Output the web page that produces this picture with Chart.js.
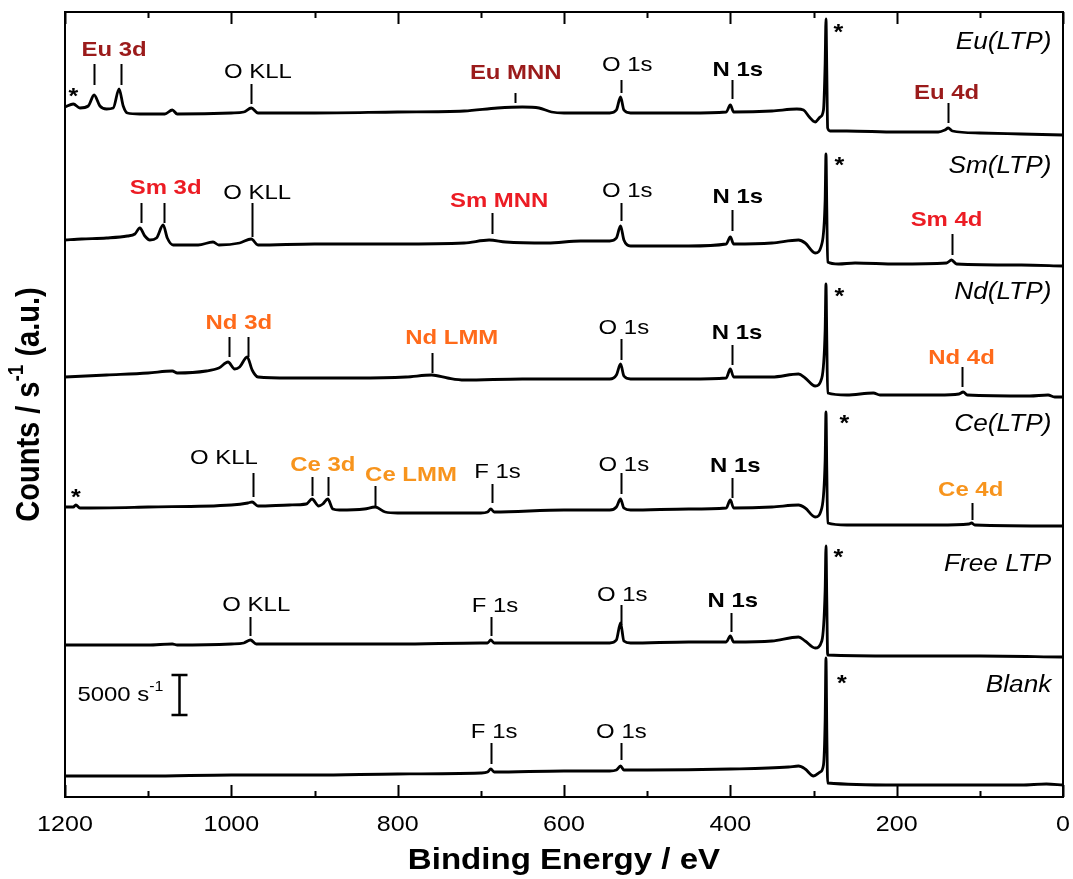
<!DOCTYPE html>
<html>
<head>
<meta charset="utf-8">
<script src="https://cdn.jsdelivr.net/npm/chart.js@4.4.0/dist/chart.umd.min.js"></script>
<style>
    html, body { margin: 0; padding: 0; background: #fff; }
</style>
</head>
<body>
<canvas id="xpsChart" width="1073" height="879"></canvas>
<script>
// survey spectra, [binding energy (eV), counts/s above the trace's own zero]
const euSpectrum = [[1200,3500],[1190,3875],[1182,3375],[1172,3625],[1165,5000],[1158,3625],[1150,3250],[1142,3375],[1135,5750],[1130,3625],[1125,2750],[1110,2625],[1080,2625],[1071,3125],[1065,2625],[1000,2750],[985,2875],[976,3375],[968,2750],[900,2750],[800,2875],[720,3000],[680,3375],[650,3500],[630,3375],[615,2875],[600,2750],[545,2750],[537,3125],[532,4750],[528,3125],[520,2750],[450,2750],[405,2875],[400,3750],[396,2875],[350,3000],[320,3250],[312,3125],[305,2250],[298,1625],[292,2250],[288,3125],[286,9000],[285,14500],[284,8000],[283,875],[280,500],[260,500],[200,375],[150,375],[142,625],[138,875],[133,500],[100,250],[50,125],[0,0]];
const smSpectrum = [[1200,3250],[1180,3375],[1150,3500],[1125,3750],[1116,4000],[1110,4750],[1104,3750],[1098,3250],[1090,3500],[1082,5125],[1077,3500],[1070,2625],[1040,2625],[1022,3000],[1015,2625],[990,2875],[976,3375],[968,2625],[900,2750],[800,2750],[720,2875],[690,3250],[670,3000],[620,2875],[580,3125],[545,3125],[537,3500],[532,5000],[528,3250],[520,2500],[450,2500],[405,2750],[400,3625],[396,2750],[350,2875],[318,3250],[310,2875],[298,1625],[290,2750],[286,8250],[285,14000],[284,7125],[283,500],[270,250],[250,375],[200,250],[140,375],[134,750],[128,250],[50,125],[0,0]];
const ndSpectrum = [[1200,2500],[1150,2750],[1100,3000],[1071,3250],[1065,3000],[1030,3250],[1015,3625],[1004,4375],[996,3500],[990,3750],[981,5000],[975,3375],[968,2500],[930,2375],[850,2375],[790,2500],[759,2750],[740,2375],[720,2125],[650,2250],[600,2250],[545,2250],[537,2750],[532,4125],[528,2625],[520,2250],[450,2250],[405,2375],[400,3500],[396,2500],[350,2500],[318,2875],[310,2375],[298,1375],[290,2375],[286,8375],[285,14125],[284,7125],[283,500],[260,250],[228,500],[220,250],[150,250],[125,375],[120,625],[115,250],[40,125],[18,250],[10,0],[0,0]];
const ceSpectrum = [[1200,2375],[1190,2375],[1187,2625],[1182,2250],[1100,2375],[1000,2625],[980,2875],[975,3000],[968,2500],[930,2625],[910,2750],[903,3375],[895,2500],[890,2750],[884,3375],[878,2125],[870,2000],[840,2125],[827,2375],[815,1750],[800,1625],[700,1625],[692,1750],[688,2125],[684,1750],[600,2000],[545,2000],[537,2375],[532,3375],[528,2250],[520,2000],[450,2125],[405,2250],[400,3250],[396,2250],[350,2375],[318,2625],[310,2250],[298,1125],[290,2250],[286,8250],[285,14250],[284,7000],[283,375],[260,125],[150,125],[113,250],[110,375],[106,125],[0,0]];
const freeSpectrum = [[1200,1500],[1100,1500],[1071,1625],[1065,1500],[1000,1625],[985,1750],[977,2125],[970,1625],[900,1625],[800,1625],[700,1750],[692,1750],[688,2125],[684,1750],[600,1750],[545,1750],[537,2125],[532,4250],[528,2000],[520,1750],[450,1875],[405,1875],[400,2625],[396,1875],[350,2000],[318,2500],[310,2000],[298,1125],[290,2000],[286,8375],[285,13875],[284,7125],[283,250],[200,125],[100,125],[0,0]];
const blankSpectrum = [[1200,1125],[1100,1125],[1000,1250],[900,1250],[800,1375],[700,1500],[692,1625],[688,2000],[684,1625],[600,1750],[545,1750],[537,1875],[532,2375],[528,1875],[500,1875],[400,2000],[330,2250],[318,2375],[310,2000],[300,1125],[292,1625],[288,2500],[286,8125],[285,15875],[284,6875],[283,250],[200,0],[50,0],[20,125],[0,0]];

const seriesNames = ['Eu(LTP)', 'Sm(LTP)', 'Nd(LTP)', 'Ce(LTP)', 'Free LTP', 'Blank'];
const seriesOffsets = [82750, 66375, 50000, 33875, 17500, 1500];
const spectra = [euSpectrum, smSpectrum, ndSpectrum, ceSpectrum, freeSpectrum, blankSpectrum];
const energyTicks = [1200, 1000, 800, 600, 400, 200, 0];
const scaleBarCounts = 5000;

const EU = '#9b1b1b', SM = '#ec1c24', ND = '#ff6a1a', CE = '#f7941d';

// peak labels: series, text, label centre (eV, counts), marker energies, marker span (counts)
const peakLabels = [
    { s: 0, text: 'Eu 3d', color: EU, bold: true, tx: 1141, ty: 10625, marks: [1165, 1133], m0: 6250, m1: 8875 },
    { s: 0, text: 'O KLL', tx: 968, ty: 7875, marks: [976], m0: 3875, m1: 6375 },
    { s: 0, text: 'Eu MNN', color: EU, bold: true, tx: 658, ty: 7750, marks: [659], m0: 4000, m1: 5250 },
    { s: 0, text: 'O 1s', tx: 524, ty: 8750, marks: [531], m0: 5250, m1: 6875 },
    { s: 0, text: 'N 1s', bold: true, tx: 391, ty: 8125, marks: [398], m0: 4500, m1: 6875 },
    { s: 0, text: 'Eu 4d', color: EU, bold: true, tx: 140, ty: 5250, marks: [138], m0: 1500, m1: 4000 },
    { s: 1, text: 'Sm 3d', color: SM, bold: true, tx: 1079, ty: 9750, marks: [1109, 1081], m0: 5375, m1: 7875 },
    { s: 1, text: 'O KLL', tx: 969, ty: 9125, marks: [975], m0: 3625, m1: 7875 },
    { s: 1, text: 'Sm MNN', color: SM, bold: true, tx: 678, ty: 8125, marks: [687], m0: 4000, m1: 6625 },
    { s: 1, text: 'O 1s', tx: 524, ty: 9375, marks: [531], m0: 5625, m1: 7875 },
    { s: 1, text: 'N 1s', bold: true, tx: 391, ty: 8625, marks: [398], m0: 4375, m1: 7000 },
    { s: 1, text: 'Sm 4d', color: SM, bold: true, tx: 140, ty: 5750, marks: [134], m0: 1375, m1: 4000 },
    { s: 2, text: 'Nd 3d', color: ND, bold: true, tx: 991, ty: 9250, marks: [1003, 980], m0: 5000, m1: 7500 },
    { s: 2, text: 'Nd LMM', color: ND, bold: true, tx: 735, ty: 7375, marks: [759], m0: 3000, m1: 5500 },
    { s: 2, text: 'O 1s', tx: 528, ty: 8625, marks: [531], m0: 4625, m1: 7250 },
    { s: 2, text: 'N 1s', bold: true, tx: 392, ty: 8000, marks: [398], m0: 4000, m1: 6500 },
    { s: 2, text: 'Nd 4d', color: ND, bold: true, tx: 122, ty: 4875, marks: [121], m0: 1250, m1: 3750 },
    { s: 3, text: 'O KLL', tx: 1009, ty: 8500, marks: [974], m0: 3625, m1: 6625 },
    { s: 3, text: 'Ce 3d', color: CE, bold: true, tx: 890, ty: 7625, marks: [903, 884], m0: 3750, m1: 6125 },
    { s: 3, text: 'Ce LMM', color: CE, bold: true, tx: 784, ty: 6375, marks: [827], m0: 2375, m1: 5000 },
    { s: 3, text: 'F 1s', tx: 680, ty: 6750, marks: [687], m0: 2875, m1: 5250 },
    { s: 3, text: 'O 1s', tx: 528, ty: 7625, marks: [531], m0: 4000, m1: 6625 },
    { s: 3, text: 'N 1s', bold: true, tx: 394, ty: 7500, marks: [398], m0: 3500, m1: 6000 },
    { s: 3, text: 'Ce 4d', color: CE, bold: true, tx: 111, ty: 4500, marks: [109], m0: 750, m1: 2875 },
    { s: 4, text: 'O KLL', tx: 970, ty: 6500, marks: [977], m0: 2625, m1: 5000 },
    { s: 4, text: 'F 1s', tx: 683, ty: 6375, marks: [688], m0: 2625, m1: 5000 },
    { s: 4, text: 'O 1s', tx: 530, ty: 7750, marks: [532], m0: 4000, m1: 6500 },
    { s: 4, text: 'N 1s', bold: true, tx: 397, ty: 7000, marks: [399], m0: 3125, m1: 5500 },
    { s: 5, text: 'F 1s', tx: 684, ty: 6625, marks: [688], m0: 2625, m1: 5250 },
    { s: 5, text: 'O 1s', tx: 531, ty: 6625, marks: [532], m0: 3125, m1: 5250 }
];
// asterisks: series, eV, counts
const stars = [[0, 270, 12750], [0, 1190, 4750], [1, 269, 12500], [2, 269, 12500], [3, 263, 12750], [3, 1187, 3500], [4, 270, 12375], [5, 266, 12625]];
const nameLevels = [11500, 12375, 13000, 12625, 11500, 12375];

const FONT = "'Liberation Sans', Arial, sans-serif";
const STRETCH = 1.14; // the original figure is a bit wider than tall

// text with a horizontal stretch, like the source picture
const wideText = (ctx, text, x, y, font, align) => {
    ctx.save();
    ctx.translate(x, y);
    ctx.scale(STRETCH, 1);
    ctx.font = font;
    ctx.textAlign = align || 'center';
    ctx.textBaseline = 'middle';
    ctx.fillText(text, 0, 0);
    ctx.restore();
};

// base + superscript + tail, drawn in the current transform
const drawSup = (ctx, x, y, base, sup, tail, size, weight, align) => {
    const big = `${weight} ${size}px ${FONT}`;
    const small = `${weight} ${Math.round(size * 0.65)}px ${FONT}`;
    ctx.font = big;
    const wb = ctx.measureText(base).width;
    const wt = ctx.measureText(tail).width;
    ctx.font = small;
    const ws = ctx.measureText(sup).width;
    const total = wb + ws + wt;
    let start = x;
    if (align === 'center') start = x - total / 2;
    if (align === 'right') start = x - total;
    ctx.textAlign = 'left';
    ctx.textBaseline = 'middle';
    ctx.font = big;
    ctx.fillText(base, start, y);
    ctx.font = small;
    ctx.fillText(sup, start + wb, y - size * 0.38);
    ctx.font = big;
    ctx.fillText(tail, start + wb + ws, y);
};

const decorations = {
    id: 'decorations',
    afterDraw(chart) {
        const ctx = chart.ctx;
        const ca = chart.chartArea;
        const xs = chart.scales.x;
        const ys = chart.scales.y;
        const px = e => xs.getPixelForValue(e);
        const py = (s, c) => ys.getPixelForValue(seriesOffsets[s] + c);

        ctx.save();
        ctx.strokeStyle = '#000';
        ctx.fillStyle = '#000';

        // frame and inward ticks
        ctx.lineWidth = 2;
        ctx.strokeRect(ca.left, ca.top, ca.right - ca.left, ca.bottom - ca.top);
        for (let v = 0; v <= 1200; v += 100) {
            const x = Math.round(px(v)) + 0.5;
            const len = v % 200 === 0 ? 12 : 6;
            ctx.beginPath();
            ctx.moveTo(x, ca.bottom);
            ctx.lineTo(x, ca.bottom - len);
            ctx.moveTo(x, ca.top);
            ctx.lineTo(x, ca.top + len);
            ctx.stroke();
        }
        energyTicks.forEach(v => {
            wideText(ctx, String(v), px(v), ca.bottom + 28, `22px ${FONT}`);
        });

        // peak markers and labels
        ctx.lineWidth = 2;
        peakLabels.forEach(p => {
            p.marks.forEach(m => {
                const x = Math.round(px(m)) + 0.5;
                ctx.beginPath();
                ctx.moveTo(x, py(p.s, p.m0));
                ctx.lineTo(x, py(p.s, p.m1));
                ctx.stroke();
            });
            ctx.fillStyle = p.color || '#000';
            wideText(ctx, p.text, px(p.tx), py(p.s, p.ty), `${p.bold ? 'bold ' : ''}21px ${FONT}`);
        });

        ctx.fillStyle = '#000';
        stars.forEach(([s, e, c]) => {
            wideText(ctx, '*', px(e), py(s, c), `bold 22px ${FONT}`);
        });

        // trace names
        seriesNames.forEach((n, i) => {
            wideText(ctx, n, px(14), py(i, nameLevels[i]), `italic 23px ${FONT}`, 'right');
        });

        // 5000 s-1 scale bar
        const barX = Math.round(px(1063)) + 0.5;
        const barBottom = py(5, 8750);
        const barTop = py(5, 8750 + scaleBarCounts);
        ctx.lineWidth = 2.5;
        ctx.beginPath();
        ctx.moveTo(barX, barBottom);
        ctx.lineTo(barX, barTop);
        ctx.moveTo(barX - 8, barBottom);
        ctx.lineTo(barX + 8, barBottom);
        ctx.moveTo(barX - 8, barTop);
        ctx.lineTo(barX + 8, barTop);
        ctx.stroke();
        ctx.save();
        ctx.translate(barX - 16, (barTop + barBottom) / 2);
        ctx.scale(STRETCH, 1);
        drawSup(ctx, 0, 0, scaleBarCounts + ' s', '-1', '', 21, 'normal', 'right');
        ctx.restore();

        // axis titles
        ctx.save();
        ctx.translate(30, (ca.top + ca.bottom) / 2);
        ctx.scale(STRETCH, 1);
        ctx.rotate(-Math.PI / 2);
        drawSup(ctx, 0, 0, 'Counts / s', '-1', ' (a.u.)', 29, 'bold', 'center');
        ctx.restore();

        wideText(ctx, 'Binding Energy / eV', (ca.left + ca.right) / 2, 861, `bold 29px ${FONT}`);

        ctx.restore();
    }
};

(function () {
    const canvas = document.getElementById('xpsChart');

    const datasets = spectra.map((sp, i) => ({
        label: seriesNames[i],
        data: sp.map(([e, c]) => ({ x: e, y: c + seriesOffsets[i] })),
        borderColor: '#000',
        borderWidth: 2.8,
        borderJoinStyle: 'round',
        pointRadius: 0,
        cubicInterpolationMode: 'monotone',
        fill: false
    }));

    new Chart(canvas, {
        type: 'line',
        data: { datasets },
        options: {
            responsive: false,
            animation: false,
            events: [],
            layout: { padding: { left: 65, top: 12, right: 10, bottom: 0 } },
            plugins: {
                legend: { display: false },
                tooltip: { enabled: false }
            },
            scales: {
                x: {
                    type: 'linear',
                    reverse: true,
                    min: 0,
                    max: 1200,
                    grid: { display: false, drawTicks: false },
                    border: { display: false },
                    ticks: { display: false },
                    afterFit: scale => {
                        scale.height = 82;
                        scale.paddingLeft = 0;
                        scale.paddingRight = 0;
                    }
                },
                y: {
                    display: false,
                    min: 0,
                    max: 98125
                }
            }
        },
        plugins: [decorations]
    });
})();
</script>
</body>
</html>
